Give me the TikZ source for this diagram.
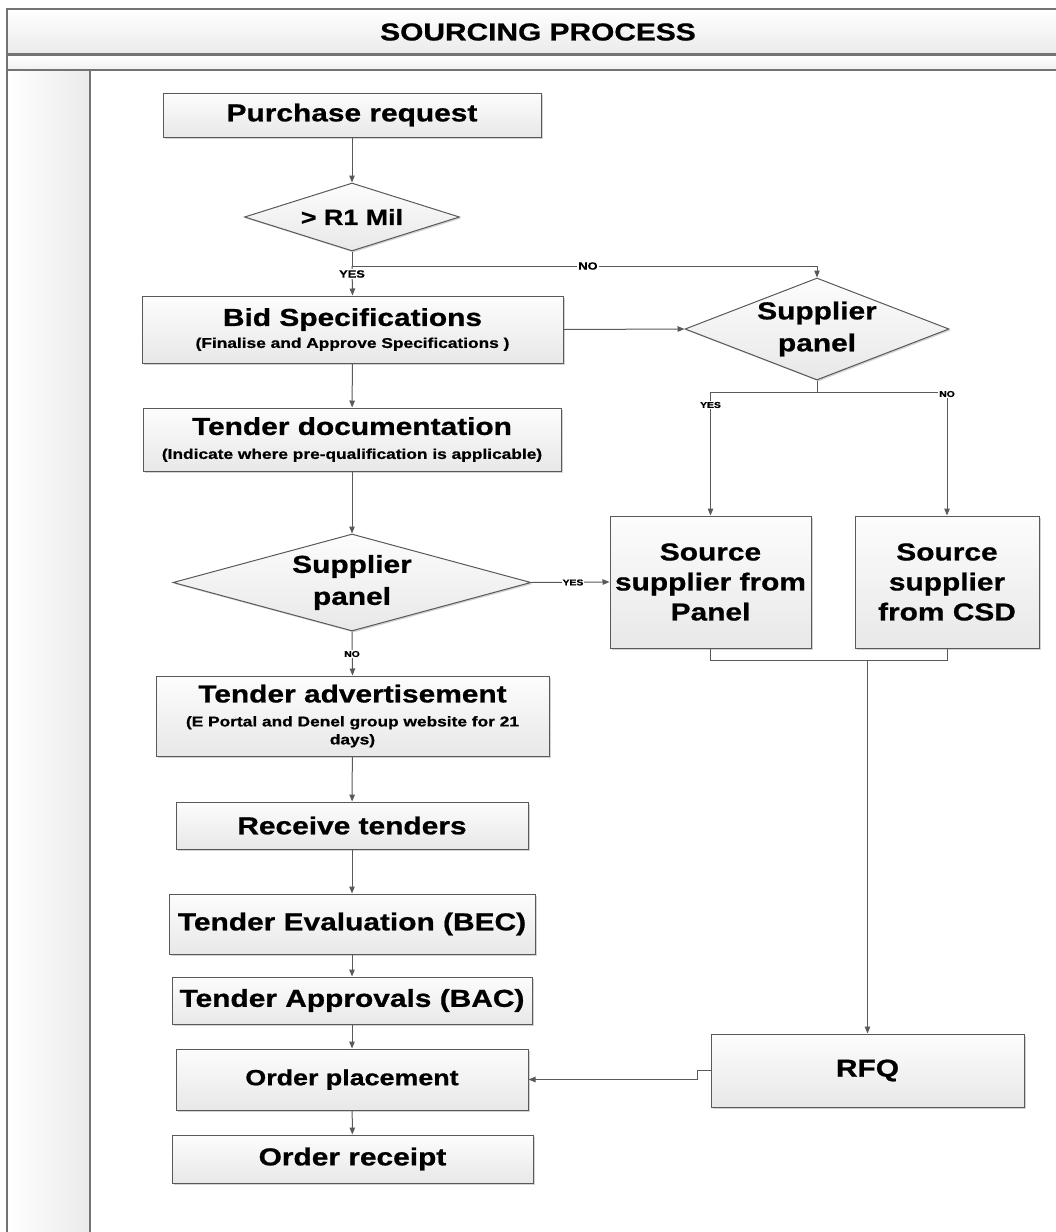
\documentclass[tikz,border=0pt]{standalone}
\usepackage{fontspec}
\setmainfont[FakeStretch=1.22, BoldFeatures={FakeBold=0.8}]{Liberation Sans}
\usetikzlibrary{arrows.meta,shapes.geometric,shadows,calc}
\newcommand\fmain{\bfseries\fontsize{24.5}{30}\selectfont}
\newcommand\fdia{\bfseries\fontsize{24.5}{32}\selectfont}
\newcommand\fsub{\bfseries\fontsize{14.2}{18}\selectfont}
\newcommand\fmid{\bfseries\fontsize{22}{27}\selectfont}
\newcommand\flbl{\bfseries\fontsize{8.5}{10}\selectfont}
\newcommand\flblbig{\bfseries\fontsize{10.5}{12}\selectfont}
\begin{document}
\begin{tikzpicture}[x=1pt,y=-1pt,
  ln/.style={draw=black!65, line width=1pt},
  arr/.style={ln, -{Triangle[length=7pt,width=5.5pt]}},
  frame/.style={draw=black!55, line width=1.5pt},
  shade/.style={top color=black!1, bottom color=black!9,
    drop shadow={shadow xshift=1.5pt, shadow yshift=-1.5pt, opacity=0.35, fill=black!50}},
  box/.style={rectangle, ln, shade, inner sep=0pt, align=center, font=\fmain},
  dia/.style={diamond, ln, shade, inner sep=0pt},
  lbl/.style={fill=white, inner sep=1pt, font=\flbl},
  lblbig/.style={fill=white, inner sep=1pt, font=\flblbig},
]
\useasboundingbox (0,0) rectangle (1056,1232);
\begin{scope}
\clip (0,0) rectangle (1056,1232);
% frame
\draw[frame, top color=white, bottom color=black!8] (7,9) rectangle (1075,54);
\draw[frame, top color=white, bottom color=black!6] (7,55) rectangle (1075,70);
\draw[frame, left color=white, right color=black!8] (7,70) rectangle (90,1245);
\end{scope}
\node[font=\fmain] (title) at (538,32) {SOURCING PROCESS};

% nodes
\node[box, minimum width=378, minimum height=44] (pr) at (352,115) {Purchase request};
\node[dia, minimum width=215, minimum height=68] (d1) at (352,217) {};
\node[font=\fmid] (d1t) at (d1) {> R1 Mil};
\node[box, minimum width=421, minimum height=67] (bs) at (352.5,329.5)
  {Bid Specifications\\[-8pt]{\fsub (Finalise and Approve Specifications )}};
\node[dia, minimum width=264, minimum height=102] (d2) at (817,329) {};
\node[font=\fdia, align=center] (d2t) at (d2) {Supplier\\panel};
\node[box, minimum width=418, minimum height=63] (td) at (352,439.5)
  {Tender documentation\\[-6pt]{\fsub (Indicate where pre-qualification is applicable)}};
\node[dia, minimum width=358, minimum height=97] (d3) at (352,582.5) {};
\node[font=\fdia, align=center] (d3t) at (d3) {Supplier\\panel};
\node[box, minimum width=201, minimum height=132] (sp) at (710.5,582)
  {Source\\supplier from\\Panel};
\node[box, minimum width=184, minimum height=132] (sc) at (947,582)
  {Source\\supplier\\from CSD};
\node[box, minimum width=393, minimum height=80] (ta) at (352.5,716)
  {Tender advertisement\\[-6pt]{\fsub (E Portal and Denel group website for 21}\\[-12pt]{\fsub days)}};
\node[box, minimum width=352, minimum height=47] (rt) at (352,825.5) {Receive tenders};
\node[box, minimum width=366, minimum height=60] (te) at (352,924) {Tender Evaluation (BEC)};
\node[box, minimum width=360, minimum height=47] (tap) at (352,1000.5) {Tender Approvals (BAC)};
\node[box, minimum width=352, minimum height=61, font=\fmid] (op) at (352,1079.5) {Order placement};
\node[box, minimum width=313, minimum height=73] (rfq) at (867.5,1070.5) {RFQ};
\node[box, minimum width=361, minimum height=48] (or) at (352.5,1159) {Order receipt};

% connectors
\coordinate (j1) at (352,266);
\draw[arr] (pr) -- (d1);
\draw[ln] (d1.south) -- (j1);
\draw[arr] (j1) -- (bs.north);
\draw[arr] (j1) -| (d2.north);
\node[lblbig] (yes1) at (352,274) {YES};
\node[lblbig] (no1) at (588,266) {NO};

\draw[arr] (bs.east) -- (d2.west);

\coordinate (j2) at (817,392);
\draw[ln] (d2.south) -- (j2);
\draw[ln] (sp.north |- j2) -- (sc.north |- j2);
\draw[arr] (sp.north |- j2) -- (sp.north);
\draw[arr] (sc.north |- j2) -- (sc.north);
\node[lbl] (yes2) at (710.5,405) {YES};
\node[lbl] (no2) at (947,394) {NO};

\draw[arr] (bs) -- (td);
\draw[arr] (td) -- (d3);
\draw[arr] (d3.east) -- (sp.west);
\node[lbl] (yes3) at (573,582.5) {YES};
\draw[arr] (d3.south) -- (ta.north);
\node[lbl] (no3) at (352,654) {NO};

\draw[arr] (ta) -- (rt);
\draw[arr] (rt) -- (te);
\draw[arr] (te) -- (tap);
\draw[arr] (tap) -- (op);
\draw[arr] (op) -- (or);

\coordinate (j3) at (867.5,660);
\draw[ln] (sp.south) -- (sp.south |- j3) -- (sc.south |- j3) -- (sc.south);
\draw[arr] (j3) -- (rfq.north);
\draw[arr] (rfq.west) -- ++(-13,0) |- (op.east);
\end{tikzpicture}
\end{document}
